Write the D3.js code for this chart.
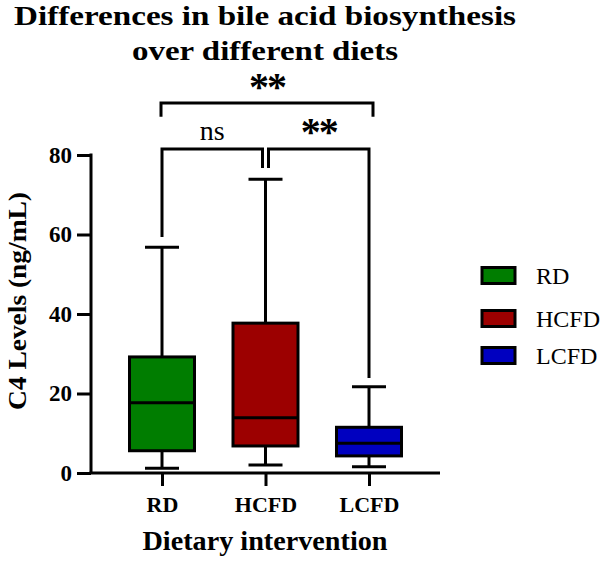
<!DOCTYPE html>
<html>
<head>
<meta charset="utf-8">
<script src="https://cdn.jsdelivr.net/npm/d3@7"></script>
<style>
  html, body { margin: 0; padding: 0; background: #fff; }
  svg { display: block; }
  text { font-family: "Liberation Serif", "DejaVu Serif", serif; fill: #000; }
</style>
</head>
<body>
<div id="chart"></div>
<script>
// ---- Data ----
const categories = ["RD", "HCFD", "LCFD"];
const mins    = [1.2, 2.0, 1.6];
const q1s     = [5.6, 6.8, 4.3];
const medians = [17.7, 13.9, 7.5];
const q3s     = [29.2, 37.7, 11.5];
const maxs    = [56.8, 73.9, 21.7];
const colors  = ["#007d00", "#9c0000", "#0000c0"];
const yTicks  = [0, 20, 40, 60, 80];

// significance comparisons
const compFrom   = ["RD", "HCFD", "RD"];
const compTo     = ["HCFD", "LCFD", "LCFD"];
const compLevel  = [81.5, 81.5, 93.1];
const compLegEndFrom = [59.4, 76.7, 89.6];
const compLegEndTo   = [76.7, 23.9, 89.6];
const compLabels = ["ns", "**", "**"];

const titleLines = ["Differences in bile acid biosynthesis", "over different diets"];
const yTitle = "C4 Levels (ng/mL)";
const xTitle = "Dietary intervention";

// ---- Setup ----
const W = 600, H = 562;
const svg = d3.select("#chart").append("svg").attr("width", W).attr("height", H);

const x = d3.scalePoint().domain(categories).range([91, 440]).padding(0.686);
const y = d3.scaleLinear().domain([0, 80]).range([473, 155]);

const boxW = 65, capW = 34, sw = 3;

function fit(sel, w) {
  sel.attr("textLength", w).attr("lengthAdjust", "spacingAndGlyphs");
}

// title
const titleW = [502, 266];
svg.append("g").selectAll("text").data(titleLines).join("text")
  .attr("x", 265).attr("y", (d, i) => 25 + i * 35)
  .attr("text-anchor", "middle")
  .attr("font-weight", "bold").attr("font-size", 28)
  .text(d => d)
  .each(function(d, i) { fit(d3.select(this), titleW[i]); });

// y axis
const yAxis = svg.append("g").attr("transform", "translate(91,0)")
  .call(d3.axisLeft(y).tickValues(yTicks).tickSize(14).tickSizeOuter(0).tickPadding(5));
yAxis.selectAll("path, line").attr("stroke", "#000").attr("stroke-width", sw);
yAxis.select(".domain").attr("d", `M0,${y(80) - 1.5}V${y(0)}`);
yAxis.selectAll("text").attr("font-family", "Liberation Serif, serif")
  .attr("font-weight", "bold").attr("font-size", 23).attr("fill", "#000");

// x axis
const xAxis = svg.append("g").attr("transform", `translate(0,${y(0)})`)
  .call(d3.axisBottom(x).tickSize(13).tickSizeOuter(0).tickPadding(10));
xAxis.selectAll("path, line").attr("stroke", "#000").attr("stroke-width", sw);
xAxis.select(".domain").attr("d", `M89.5,0H440`);
xAxis.selectAll("text").attr("font-family", "Liberation Serif, serif")
  .attr("font-weight", "bold").attr("font-size", 22).attr("fill", "#000");

// axis titles
svg.append("text")
  .attr("transform", `translate(26,301) rotate(-90)`)
  .attr("text-anchor", "middle")
  .attr("font-weight", "bold").attr("font-size", 25)
  .text(yTitle)
  .call(fit, 218);
svg.append("text")
  .attr("x", 265).attr("y", 550)
  .attr("text-anchor", "middle")
  .attr("font-weight", "bold").attr("font-size", 27)
  .text(xTitle)
  .call(fit, 245);

// boxes
const boxData = categories.map((c, i) => ({c, min: mins[i], q1: q1s[i], med: medians[i], q3: q3s[i], max: maxs[i], color: colors[i]}));
const g = svg.append("g").selectAll("g").data(boxData).join("g");
g.append("line")
  .attr("x1", d => x(d.c)).attr("x2", d => x(d.c))
  .attr("y1", d => y(d.min)).attr("y2", d => y(d.max))
  .attr("stroke", "#000").attr("stroke-width", sw);
g.append("line")
  .attr("x1", d => x(d.c) - capW / 2).attr("x2", d => x(d.c) + capW / 2)
  .attr("y1", d => y(d.max)).attr("y2", d => y(d.max))
  .attr("stroke", "#000").attr("stroke-width", sw);
g.append("line")
  .attr("x1", d => x(d.c) - capW / 2).attr("x2", d => x(d.c) + capW / 2)
  .attr("y1", d => y(d.min)).attr("y2", d => y(d.min))
  .attr("stroke", "#000").attr("stroke-width", sw);
g.append("rect")
  .attr("x", d => x(d.c) - boxW / 2).attr("width", boxW)
  .attr("y", d => y(d.q3)).attr("height", d => y(d.q1) - y(d.q3))
  .attr("fill", d => d.color).attr("stroke", "#000").attr("stroke-width", sw);
g.append("line")
  .attr("x1", d => x(d.c) - boxW / 2).attr("x2", d => x(d.c) + boxW / 2)
  .attr("y1", d => y(d.med)).attr("y2", d => y(d.med))
  .attr("stroke", "#000").attr("stroke-width", sw);

// significance brackets
const comps = compFrom.map((f, i) => ({f, t: compTo[i], lvl: compLevel[i], ef: compLegEndFrom[i], et: compLegEndTo[i], label: compLabels[i], top: i === 2}));
const bg = svg.append("g");
comps.forEach(d => {
  const off = 3;
  let x1 = x(d.f), x2 = x(d.t);
  if (!d.top) {
    if (d.f === "HCFD") x1 += off;
    if (d.t === "HCFD") x2 -= off;
  } else {
    x1 -= 1; x2 += 4;
  }
  bg.append("path")
    .attr("d", `M${x1},${y(d.ef)}V${y(d.lvl)}H${x2}V${y(d.et)}`)
    .attr("fill", "none").attr("stroke", "#000").attr("stroke-width", sw)
    .attr("stroke-linejoin", "miter");
  const cx = (x1 + x2) / 2;
  const cy = d.top ? 83 : 128;
  const isStar = d.label.includes("*");
  const t = bg.append("text")
    .attr("x", cx).attr("y", cy)
    .attr("text-anchor", "middle")
    .attr("font-weight", isStar ? "bold" : "normal")
    .attr("font-size", isStar ? 40 : 28)
    .attr("font-family", isStar ? "DejaVu Sans, sans-serif" : "Liberation Serif, serif")
    .attr("letter-spacing", isStar ? -2 : 0)
    .text(d.label);
  const bb = t.node().getBBox();
  if (isStar) {
    t.attr("y", cy + (cy - (bb.y + bb.height / 2)) + 3);
  } else {
    t.attr("y", cy + (cy - (bb.y + bb.height / 2)) + 2);
  }
});

// legend
const legY = [275.5, 318.5, 355.5];
const lg = svg.append("g").selectAll("g").data(categories).join("g")
  .attr("transform", (d, i) => `translate(482,${legY[i]})`);
lg.append("rect").attr("x", 0).attr("y", -8).attr("width", 33).attr("height", 16)
  .attr("fill", (d, i) => colors[i]).attr("stroke", "#000").attr("stroke-width", sw);
lg.append("text").attr("x", 54).attr("y", 8).attr("font-size", 24).text(d => d);
</script>
</body>
</html>
